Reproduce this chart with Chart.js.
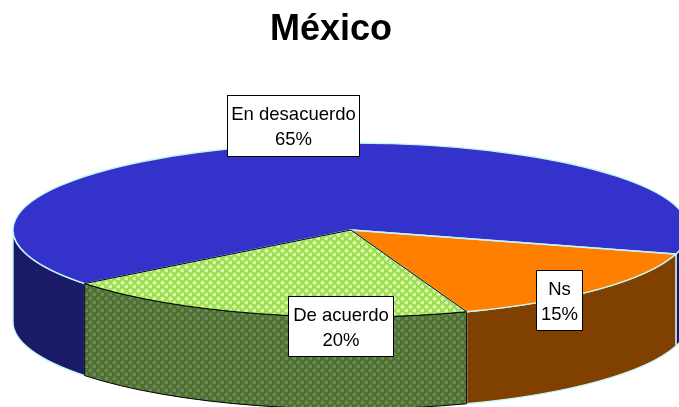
<!DOCTYPE html>
<html>
<head>
<meta charset="utf-8">
<style>
  html, body { margin: 0; padding: 0; background: #fff; }
  canvas { display: block; }
</style>
<script src="https://cdn.jsdelivr.net/npm/chart.js@4/dist/chart.umd.min.js"></script>
</head>
<body>
<canvas id="myChart" width="679" height="407"></canvas>
<script>
const titleText = 'México';
const categories = ['Ns', 'De acuerdo', 'En desacuerdo'];
const percents = [15, 20, 65];

const FONT = '"Liberation Sans", Arial, sans-serif';
// ellipse of the tilted pie, in page pixels
const CX = 351, CY = 230, RX = 338, RY = 87, DEPTH = 92;
const sideColors = ['#804000', '#668033', '#1A1A66'];
const edgeColors = ['#C4F6F6', '#000000', '#C4F6F6'];
const edgeWidths = [1.4, 1, 1.4];
// label boxes: left, top, width, height
const labelBoxes = [[536, 270, 46, 60], [288, 296, 105, 60], [227, 95, 132, 61]];

function hatch(light, dark) {
    const tile = document.createElement('canvas');
    tile.width = 8;
    tile.height = 8;
    const c = tile.getContext('2d');
    c.fillStyle = dark;
    c.fillRect(0, 0, 8, 8);
    c.fillStyle = light;
    for (let y = 0; y < 8; y++) {
        for (let x = 0; x < 8; x++) {
            const d1 = Math.abs(x - 2) + Math.abs(y - 2);
            const d2 = Math.abs(x - 6) + Math.abs(y - 6);
            if (d1 <= 2 || d2 <= 2) c.fillRect(x, y, 1, 1);
        }
    }
    return c.createPattern(tile, 'repeat');
}

const greenTop = hatch('#CCFFAA', '#A3D94D');
const greenSide = hatch('#6C8560', '#4C7229');

function sidePath(ctx, from, to) {
    ctx.beginPath();
    ctx.ellipse(CX, CY, RX, RY, 0, from, to);
    ctx.ellipse(CX, CY + DEPTH, RX, RY, 0, to, from, true);
    ctx.closePath();
}

// the front half of the wall only, one or two pieces per slice
function visibleRanges(start, end) {
    const out = [];
    for (const k of [0, 2 * Math.PI]) {
        const a = Math.max(start, k);
        const b = Math.min(end, k + Math.PI);
        if (b > a) out.push([a, b]);
    }
    return out;
}

const pie3d = {
    id: 'pie3d',
    beforeDatasetsDraw(chart) {
        const ctx = chart.ctx;
        const arcs = chart.getDatasetMeta(0).data;
        [2, 0, 1].forEach(i => {
            const p = arcs[i].getProps(['startAngle', 'endAngle'], true);
            visibleRanges(p.startAngle, p.endAngle).forEach(r => {
                sidePath(ctx, r[0], r[1]);
                ctx.fillStyle = i === 1 ? greenSide : sideColors[i];
                ctx.fill();
                ctx.strokeStyle = edgeColors[i];
                ctx.lineWidth = edgeWidths[i];
                ctx.stroke();
            });
        });
        const first = arcs[0].getProps(['x', 'y', 'outerRadius'], true);
        const sx = RX / first.outerRadius;
        const sy = RY / first.outerRadius;
        // keep the hatch square while the pie is squashed
        greenTop.setTransform(new DOMMatrix().scale(1 / sx, 1 / sy));
        ctx.save();
        ctx.translate(CX, CY);
        ctx.scale(sx, sy);
        ctx.translate(-first.x, -first.y);
    },
    afterDatasetsDraw(chart) {
        const ctx = chart.ctx;
        ctx.restore();
        const arcs = chart.getDatasetMeta(0).data;
        [2, 0, 1].forEach(i => {
            const p = arcs[i].getProps(['startAngle', 'endAngle'], true);
            ctx.beginPath();
            ctx.moveTo(CX, CY);
            ctx.ellipse(CX, CY, RX, RY, 0, p.startAngle, p.endAngle);
            ctx.closePath();
            ctx.strokeStyle = edgeColors[i];
            ctx.lineWidth = edgeWidths[i];
            ctx.stroke();
        });
        ctx.font = '18.5px ' + FONT;
        ctx.textAlign = 'center';
        ctx.textBaseline = 'middle';
        categories.forEach((name, i) => {
            const b = labelBoxes[i];
            ctx.fillStyle = '#FFFFFF';
            ctx.strokeStyle = '#000000';
            ctx.lineWidth = 1;
            ctx.fillRect(b[0], b[1], b[2], b[3]);
            ctx.strokeRect(b[0] + 0.5, b[1] + 0.5, b[2], b[3]);
            ctx.fillStyle = '#000000';
            const mid = b[0] + b[2] / 2 + 0.5;
            ctx.fillText(name, mid, b[1] + 20);
            ctx.fillText(percents[i] + '%', mid, b[1] + 45);
        });
    }
};

new Chart(document.getElementById('myChart'), {
    type: 'pie',
    plugins: [pie3d],
    data: {
        labels: categories,
        datasets: [{
            data: percents,
            backgroundColor: ['#FF8000', greenTop, '#3333CC'],
            borderWidth: 0,
            clip: false
        }]
    },
    options: {
        responsive: false,
        animation: false,
        events: [],
        rotation: 106,
        layout: { padding: { right: 17 } },
        plugins: {
            legend: { display: false },
            tooltip: { enabled: false },
            title: {
                display: true,
                text: titleText,
                fullSize: false,
                color: '#000000',
                font: { family: FONT, size: 36, weight: 'bold' },
                padding: { top: 8, bottom: 10 }
            }
        }
    }
});
</script>
</body>
</html>
